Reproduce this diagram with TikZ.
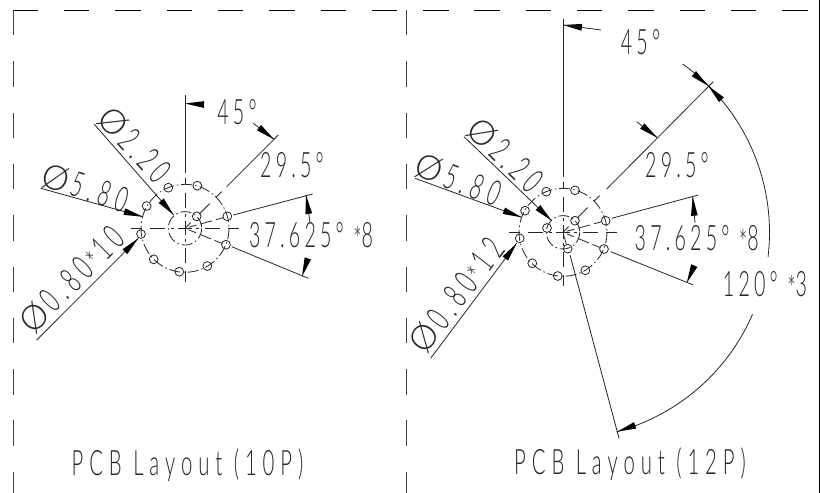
\documentclass[tikz,border=0pt]{standalone}
\usepackage{fontspec}
\usetikzlibrary{calc}
\setmainfont[LetterSpace=12,FakeStretch=0.56]{Lato Light}
\newfontfamily\widefont[LetterSpace=17,FakeStretch=0.58]{Lato Light}
\newfontfamily\phifont{Lato Light}
\newcommand{\phisym}{{\phifont\fontsize{34}{34}\selectfont Ø}\hspace{4pt}}
\newcommand{\lowstar}{\raisebox{-5pt}{*}}
\newcommand{\gapstar}{\hspace{3pt}\raisebox{-5pt}{*}\hspace{3pt}}
\tikzset{
  lab/.style={inner sep=0pt,font=\fontsize{35}{35}\selectfont,text=black!85},
  rlab/.style={inner sep=0pt,font=\widefont\fontsize{35}{35}\selectfont,text=black!85},
  ttl/.style={inner sep=0pt,font=\widefont\fontsize{35}{35}\selectfont,text=black!85},
  thinln/.style={line width=0.8pt,black!85},
  frameln/.style={line width=1pt,black!75,dash pattern=on 25.4pt off 25.9pt},
  pitch/.style={line width=0.8pt,black!85,dash pattern=on 11pt off 3pt on 1.5pt off 3pt},
  hole/.style={line width=0.8pt,black!85}
}
% segment of a ray: cx, cy, angle, r1, r2
\newcommand{\seg}[5]{\draw[thinln] ({#1+(#4)*cos(#3)},{#2+(#4)*sin(#3)}) -- ({#1+(#5)*cos(#3)},{#2+(#5)*sin(#3)});}
% filled arrow wedge: tip, direction point
\newcommand{\wdg}[2]{\path #1 coordinate (wt); \path ($(wt)!19pt!#2$) coordinate (wb);
  \fill[black] (wt) -- ($(wb)!3.4pt!90:(wt)$) -- ($(wb)!3.4pt!-90:(wt)$) -- cycle;}
\newcommand{\centremarks}[2]{%
  \foreach \a/\b in {-54/-43,-35/-20,-14/-11,-7/7,11/14,20/35,43/54}{%
    \seg{#1}{#2}{0}{\a}{\b}%
  }%
  \foreach \a/\b in {-50/-43,-35/-20,-14/-11,-7/7,11/14,20/35,43/54}{%
    \seg{#1}{#2}{90}{\a}{\b}%
  }%
  \draw[pitch] (#1,#2) circle[radius=44];
  \draw[pitch] (#1,#2) circle[radius=16.7];
}
\begin{document}
\begin{tikzpicture}[x=1pt,y=-1pt]
\useasboundingbox (0,0) rectangle (820,493);
\fill[white] (0,0) rectangle (820,493);
% frame
\coordinate (tl) at (12.7,10.5);
\coordinate (tr) at (820,10.5);
\coordinate (vl1) at (13,10);
\coordinate (vl2) at (13,493);
\coordinate (vm1) at (406,10);
\coordinate (vm2) at (406,493);
\draw[frameln,black] (tl) -- (tr);
\draw[frameln] (vl1) -- (vl2);
\draw[frameln] (vm1) -- (vm2);
\fill[black] (819,0) rectangle (820,493);

%%%% LEFT
\centremarks{185}{228.3}
\foreach \p in {(197.3,185.7),(168.3,187.7),(146.7,206),(141,234),(153.7,259.3),(179.3,271.7),(207.3,266),(226,244.7),(227.3,216.3),(196.7,216.3)}
  \draw[hole] \p circle[radius=4.4];
\draw[thinln] (185,95) -- (185,173);
\foreach \a/\b in {0/8,20/35,44/52}{\seg{185}{228.3}{-45}{\a}{\b}}
\draw[thinln] (226.7,186.7) -- (278.3,135);
\foreach \a/\b in {4/12,16/28,32/40}{\seg{185}{228.3}{-15.5}{\a}{\b}\seg{185}{228.3}{22.2}{\a}{\b}}
\draw[thinln] (233.3,215) -- (312.7,194);
\draw[thinln] (231.7,246.7) -- (308.3,278.3);
\wdg{(185,103.5)}{(204,104.5)}
\draw[thinln] (253.3,123.3) -- (274,139.3);
\wdg{(274,139.3)}{(253.3,123.3)}
\draw[thinln] (306,195) -- (310,222);
\wdg{(306,195)}{(310,222)}
\wdg{(302,276.5)}{(308,258)}
\draw[thinln] (94.3,124.3) -- (173.7,215);
\wdg{(173.7,215)}{(94.3,124.3)}
\draw[thinln] (40.7,188.3) -- (142.7,216.7);
\wdg{(142.7,216.7)}{(40.7,188.3)}
\draw[thinln] (36.7,340) -- (138.3,238.3);
\wdg{(138.3,238.3)}{(36.7,340)}
\node[lab] (a45) at (237,112) {45°};
\node[lab] (a295) at (292,165) {29.5°};
\node[lab] (a376) at (311,237) {37.625° \lowstar 8};
\node[rlab,rotate=-47] (d220) at (134,145) {\phisym 2.20};
\node[rlab,rotate=-18] (d580) at (85,188) {\phisym 5.80};
\node[rlab,rotate=45] (d080) at (73,281) {\phisym 0.80\gapstar 10};
\node[ttl] (t10) at (187.5,465) {PCB Layout (10P)};

%%%% RIGHT
\centremarks{563}{232.3}
\foreach \p in {(575,190.3),(546.3,191.7),(525,210.7),(519.7,238.3),(532.3,263.3),(557.7,276),(585.3,270.3),(604,249),(605.7,220.7),(575,220.7),(547,228),(567.7,248.7)}
  \draw[hole] \p circle[radius=4.4];
\draw[thinln] (563,19) -- (563,177);
\foreach \a/\b in {0/8,20/35,44/52}{\seg{563}{232.3}{-45}{\a}{\b}}
\draw[thinln] (606.7,189) -- (713.3,81.7);
\foreach \a/\b in {4/12,16/28,32/40}{\seg{563}{232.3}{-15.3}{\a}{\b}\seg{563}{232.3}{22.3}{\a}{\b}}
\draw[thinln] (611.7,218.3) -- (698.3,195);
\draw[thinln] (610.7,251.7) -- (693.3,285);
\seg{563}{232.3}{75}{4}{12}
\draw[thinln] (570,255) -- (619,438.3);
\draw[thinln] plot[domain=-54.6:-45.2,samples=12,smooth] ({563+206.5*cos(\x)},{232.3+206.5*sin(\x)});
\draw[thinln] plot[domain=-45.2:6.8,samples=40,smooth] ({563+206.5*cos(\x)},{232.3+206.5*sin(\x)});
\draw[thinln] plot[domain=23.4:74.9,samples=40,smooth] ({563+206.5*cos(\x)},{232.3+206.5*sin(\x)});
\wdg{(708.3,86)}{(692.7,72.7)}
\wdg{(708.3,86)}{(723.3,101.7)}
\wdg{(617.3,431.7)}{(636,425)}
\wdg{(563,25)}{(582,27.3)}
\draw[thinln] (563,25) -- (601,30);
\draw[thinln] (636.7,121.7) -- (657.3,137.7);
\wdg{(657.3,137.7)}{(636.7,121.7)}
\draw[thinln] (692.7,196.7) -- (695,222.7);
\wdg{(692.7,196.7)}{(695,222.7)}
\wdg{(686.7,283)}{(695,264)}
\draw[thinln] (464,136.7) -- (551.7,220.7);
\wdg{(551.7,220.7)}{(464,136.7)}
\draw[thinln] (415,178.3) -- (521.7,217.3);
\wdg{(521.7,217.3)}{(415,178.3)}
\draw[thinln] (430.7,358.3) -- (516.7,243.3);
\wdg{(516.7,243.3)}{(430.7,358.3)}
\node[lab] (b45) at (640.5,42) {45°};
\node[lab] (b295) at (677,165) {29.5°};
\node[lab] (b376) at (696.7,240) {37.625° \lowstar 8};
\node[lab] (b120) at (765,286) {120° \lowstar 3};
\node[rlab,rotate=-44] (e220) at (505,155) {\phisym 2.20};
\node[rlab,rotate=-21] (e580) at (458,180) {\phisym 5.80};
\node[rlab,rotate=52.5] (e080) at (458,297) {\phisym 0.80\gapstar 12};
\node[ttl] (t12) at (630,464) {PCB Layout (12P)};
\end{tikzpicture}
\end{document}
